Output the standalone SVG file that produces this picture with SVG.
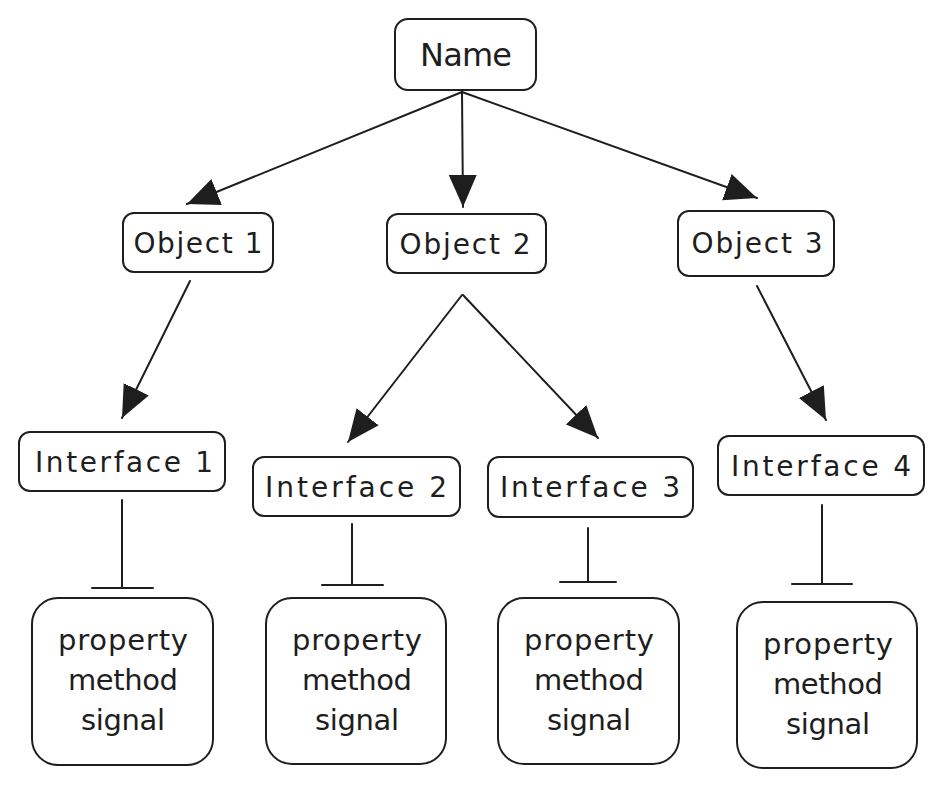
<svg xmlns="http://www.w3.org/2000/svg" width="944" height="789" viewBox="0 0 944 789">
<defs>
<style>
.box{fill:#fff;stroke:#1e1e1e;stroke-width:2}
.ln{fill:none;stroke:#1e1e1e;stroke-width:2;stroke-linecap:round}
.t{font-family:"DejaVu Sans","Liberation Sans",sans-serif;fill:#1e1e1e;text-anchor:middle}
.s26{font-size:28px}
.s28{font-size:29px}
</style>
<marker id="ah" markerUnits="userSpaceOnUse" markerWidth="34" markerHeight="30" viewBox="0 0 34 30" refX="32" refY="15" orient="auto">
<path d="M0,1 L32,15 L0,29 Z" fill="#1e1e1e"/>
</marker>
</defs>
<rect width="944" height="789" fill="#fff"/>
<g id="connectors">
<line class="ln" x1="462" y1="92" x2="187" y2="204" marker-end="url(#ah)"/>
<line class="ln" x1="462" y1="92" x2="463" y2="207" marker-end="url(#ah)"/>
<line class="ln" x1="462" y1="92" x2="757" y2="198" marker-end="url(#ah)"/>
<line class="ln" x1="190" y1="281" x2="122" y2="418" marker-end="url(#ah)"/>
<line class="ln" x1="462" y1="295" x2="348" y2="442" marker-end="url(#ah)"/>
<line class="ln" x1="463" y1="295" x2="598" y2="438" marker-end="url(#ah)"/>
<line class="ln" x1="757" y1="286" x2="826" y2="420" marker-end="url(#ah)"/>
<path class="ln" d="M122,500 V588 M92,588 H153"/>
<path class="ln" d="M352,524 V585 M322,585 H383"/>
<path class="ln" d="M588,528 V582 M560,582 H616"/>
<path class="ln" d="M822,505 V584 M792,584 H852"/>
</g>
<g id="name"><rect class="box" x="395" y="19" width="141" height="71" rx="13"/><text class="t" x="466" y="66" font-size="32" textLength="92" lengthAdjust="spacing">Name</text></g>
<g id="object1"><rect class="box" x="123" y="213" width="150" height="59" rx="11"/><text class="t s26" x="198" y="253" textLength="129" lengthAdjust="spacing">Object 1</text></g>
<g id="object2"><rect class="box" x="387" y="214" width="159" height="59" rx="11"/><text class="t s26" x="465" y="254" textLength="131" lengthAdjust="spacing">Object 2</text></g>
<g id="object3"><rect class="box" x="678" y="211" width="156" height="65" rx="11"/><text class="t s26" x="757" y="253" textLength="131" lengthAdjust="spacing">Object 3</text></g>
<g id="interface1"><rect class="box" x="19" y="432" width="206" height="59" rx="11"/><text class="t s26" x="124" y="472" textLength="178" lengthAdjust="spacing">Interface 1</text></g>
<g id="interface2"><rect class="box" x="253" y="457" width="207" height="59" rx="11"/><text class="t s26" x="356" y="497" textLength="182" lengthAdjust="spacing">Interface 2</text></g>
<g id="interface3"><rect class="box" x="488" y="457" width="205" height="60" rx="11"/><text class="t s26" x="590" y="497" textLength="180" lengthAdjust="spacing">Interface 3</text></g>
<g id="interface4"><rect class="box" x="718" y="436" width="206" height="59" rx="11"/><text class="t s26" x="821" y="476" textLength="180" lengthAdjust="spacing">Interface 4</text></g>
<g id="members1"><rect class="box" x="32" y="598" width="181" height="167" rx="26"/>
<text class="t s28" x="123" y="650" textLength="130" lengthAdjust="spacing">property</text>
<text class="t s28" x="123" y="690" textLength="110" lengthAdjust="spacing">method</text>
<text class="t s28" x="123" y="730" textLength="84" lengthAdjust="spacing">signal</text></g>
<g id="members2"><rect class="box" x="266" y="598" width="180" height="166" rx="26"/>
<text class="t s28" x="357" y="650" textLength="130" lengthAdjust="spacing">property</text>
<text class="t s28" x="357" y="690" textLength="110" lengthAdjust="spacing">method</text>
<text class="t s28" x="357" y="730" textLength="84" lengthAdjust="spacing">signal</text></g>
<g id="members3"><rect class="box" x="498" y="598" width="181" height="166" rx="26"/>
<text class="t s28" x="589" y="650" textLength="130" lengthAdjust="spacing">property</text>
<text class="t s28" x="589" y="690" textLength="110" lengthAdjust="spacing">method</text>
<text class="t s28" x="589" y="730" textLength="84" lengthAdjust="spacing">signal</text></g>
<g id="members4"><rect class="box" x="737" y="602" width="180" height="166" rx="26"/>
<text class="t s28" x="828" y="654" textLength="130" lengthAdjust="spacing">property</text>
<text class="t s28" x="828" y="694" textLength="110" lengthAdjust="spacing">method</text>
<text class="t s28" x="828" y="734" textLength="84" lengthAdjust="spacing">signal</text></g>
</svg>
